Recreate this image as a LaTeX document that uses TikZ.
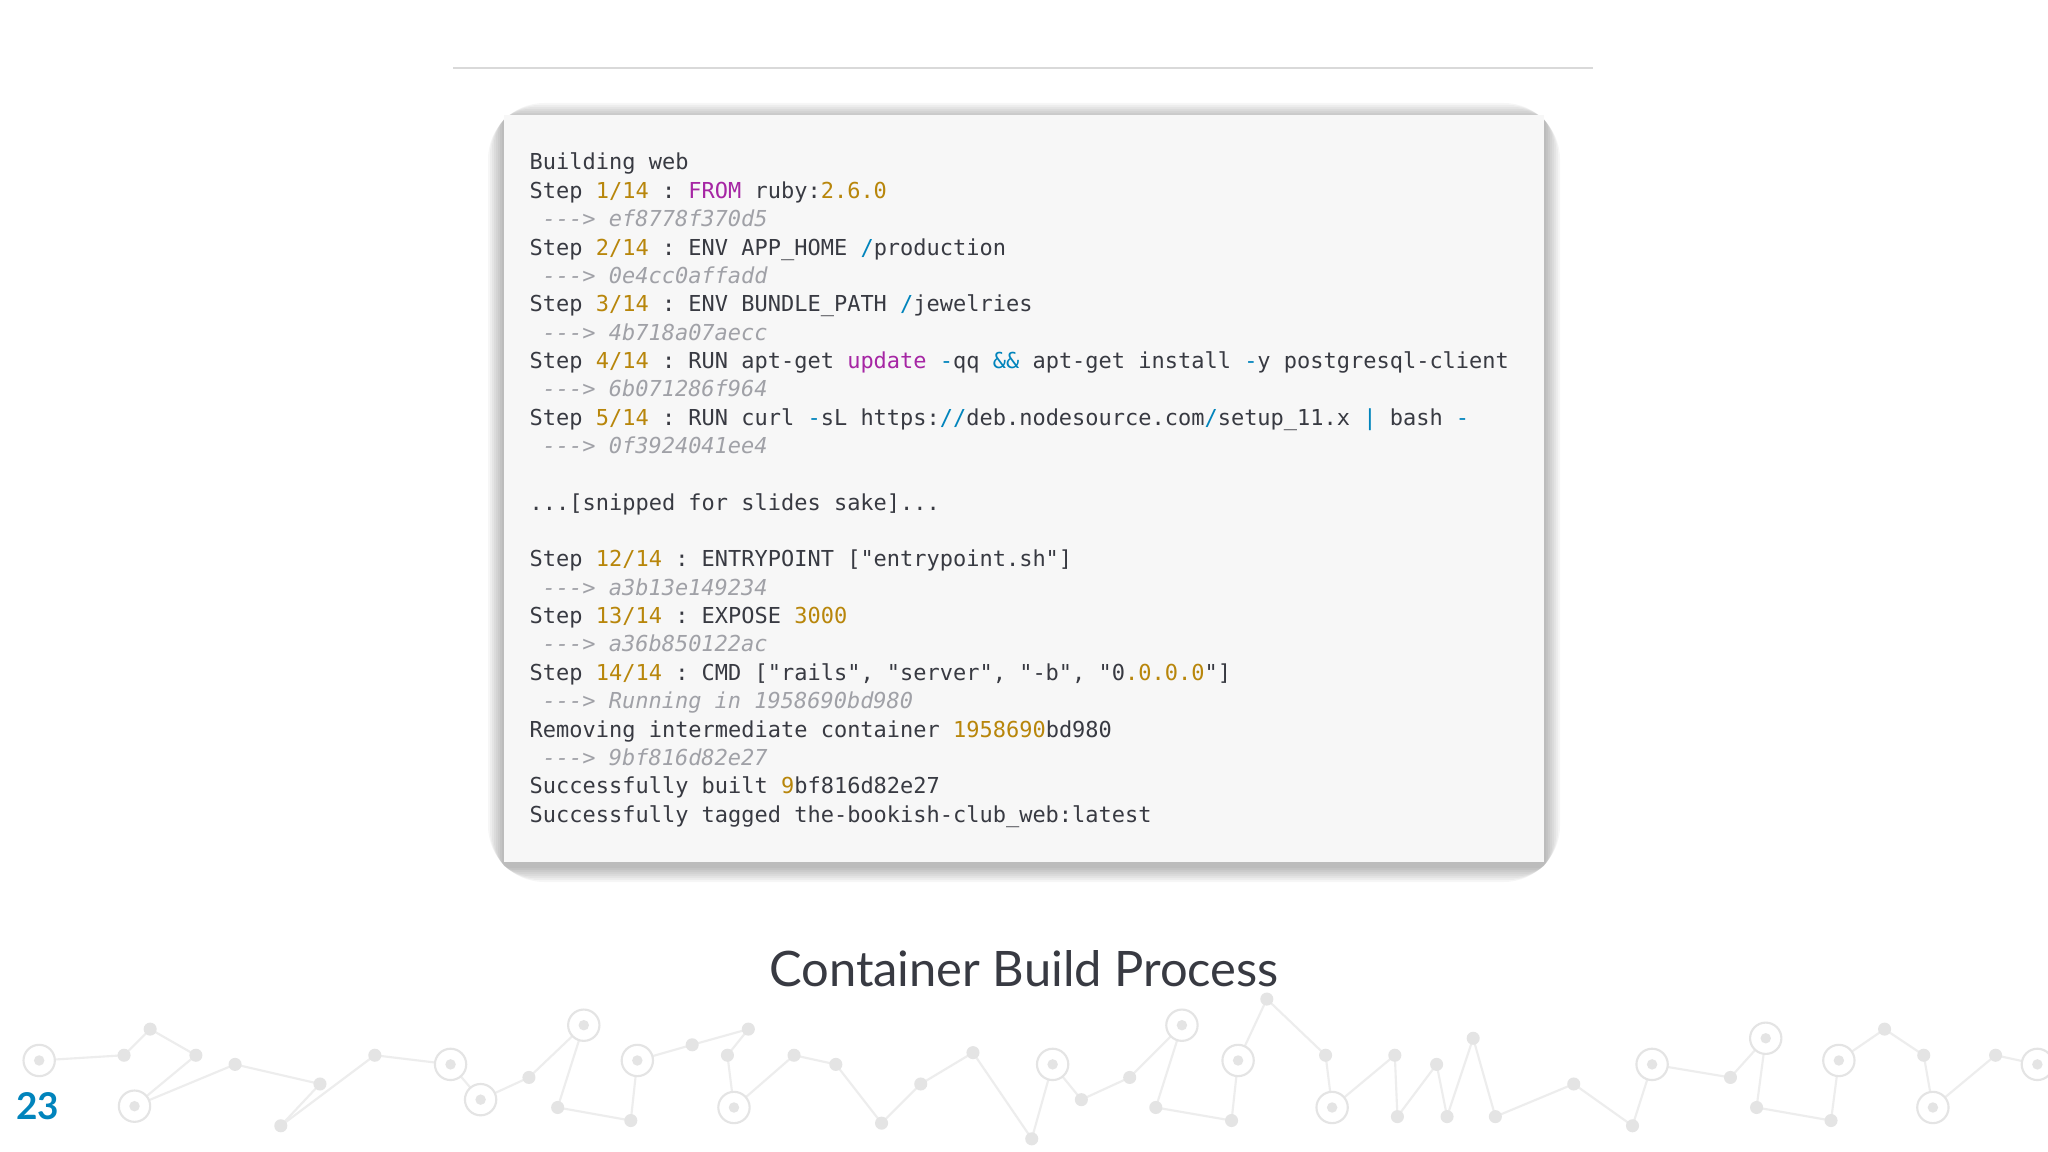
\documentclass[tikz,border=0pt]{standalone}
\usepackage{fontspec}
\setmainfont{Lato}
\setmonofont{DejaVu Sans Mono}
\definecolor{numc}{HTML}{B8860B}
\definecolor{kwc}{HTML}{A626A4}
\definecolor{blc}{HTML}{0184BC}
\definecolor{cmc}{HTML}{A0A1A7}
\definecolor{txc}{HTML}{383A42}
\definecolor{netc}{HTML}{E4E4E4}
\definecolor{linec}{HTML}{EDEDED}
\newcommand\nm[1]{\textcolor{numc}{#1}}
\newcommand\kw[1]{\textcolor{kwc}{#1}}
\newcommand\bl[1]{\textcolor{blc}{#1}}
\tikzset{
  codeline/.style={anchor=base west, inner sep=0pt, font=\ttfamily\fontsize{6.25}{7}\selectfont, text=txc},
  hashline/.style={codeline, text=cmc, font=\ttfamily\itshape\fontsize{6.25}{7}\selectfont},
  ring/.style={draw=netc, line width=0.6pt, fill=white}
}
\begin{document}
\begin{tikzpicture}[x=0.01cm, y=-0.01cm]
  \useasboundingbox (0,0) rectangle (2048,1152);
  \fill[white] (0,0) rectangle (2048,1152);
  % background network
  \begin{scope}[scale=1.306]
    \foreach \x/\y [remember=\x as \px (initially 30), remember=\y as \py (initially 812)] in
      {30/812,95/808,115/788,150/808,103/847,180/815,245/830,215/862,287/808,345/815,368/842,405/825,447/785,427/848,483/858,488/812,530/800,573/788,557/808,562/848,608/808,640/815,675/860,705/830,745/806,790/872,806/815,828/842,865/825,905/785,885/848,943/858,948/812,970/765,1015/808,1020/848,1068/808,1070/855,1100/815,1108/855,1128/795,1145/855,1205/830,1250/862,1265/815,1325/825,1352/795,1345/848,1402/858,1408/812,1443/788,1473/808,1480/848,1528/808,1560/815}
      \draw[linec, line width=0.6pt] (\px,\py) -- (\x,\y);
    \foreach \x/\y in {95/808,115/788,150/808,180/815,245/830,215/862,287/808,405/825,427/848,483/858,530/800,573/788,557/808,608/808,640/815,675/860,705/830,745/806,790/872,828/842,865/825,885/848,943/858,970/765,1015/808,1068/808,1070/855,1100/815,1108/855,1128/795,1145/855,1205/830,1250/862,1325/825,1345/848,1402/858,1443/788,1473/808,1528/808}
      \fill[netc] (\x,\y) circle (5);
    \foreach \x/\y in {30/812,103/847,345/815,368/842,447/785,488/812,562/848,806/815,905/785,948/812,1020/848,1265/815,1352/795,1408/812,1480/848,1560/815}
      {\draw[ring] (\x,\y) circle (12); \fill[netc] (\x,\y) circle (4);}
  \end{scope}
  % rule and code box
  \draw[black!15, line width=0.5pt] (453,68) -- (1593,68);
  \foreach \s in {16,14,...,2}
    \fill[black, opacity=0.035, rounded corners=\s] (504-\s,115-\s+4) rectangle (1544+\s,862+\s+4);
  \fill[black!3] (504,115) rectangle (1544,862);
  \node[codeline] (l0) at (529,170) {Building web};
  \node[codeline] (l1) at (529,198.4) {Step \nm{1/14} : \kw{FROM} ruby:\nm{2.6.0}};
  \node[hashline] (l2) at (542,226.7) {---> ef8778f370d5};
  \node[codeline] (l3) at (529,255.1) {Step \nm{2/14} : ENV APP\_HOME \bl{/}production};
  \node[hashline] (l4) at (542,283.4) {---> 0e4cc0affadd};
  \node[codeline] (l5) at (529,311.8) {Step \nm{3/14} : ENV BUNDLE\_PATH \bl{/}jewelries};
  \node[hashline] (l6) at (542,340.1) {---> 4b718a07aecc};
  \node[codeline] (l7) at (529,368.5) {Step \nm{4/14} : RUN apt-get \kw{update} \bl{-}qq \bl{\&\&} apt-get install \bl{-}y postgresql-client};
  \node[hashline] (l8) at (542,396.8) {---> 6b071286f964};
  \node[codeline] (l9) at (529,425.2) {Step \nm{5/14} : RUN curl \bl{-}sL https:\bl{//}deb.nodesource.com\bl{/}setup\_11.x \bl{|} bash \bl{-}};
  \node[hashline] (l10) at (542,453.5) {---> 0f3924041ee4};
  \node[codeline] (l12) at (529,510.2) {...[snipped for slides sake]...};
  \node[codeline] (l14) at (529,566.9) {Step \nm{12/14} : ENTRYPOINT ["entrypoint.sh"]};
  \node[hashline] (l15) at (542,595.3) {---> a3b13e149234};
  \node[codeline] (l16) at (529,623.6) {Step \nm{13/14} : EXPOSE \nm{3000}};
  \node[hashline] (l17) at (542,652.0) {---> a36b850122ac};
  \node[codeline] (l18) at (529,680.3) {Step \nm{14/14} : CMD ["rails", "server", "-b", "0\nm{.0.0.0}"]};
  \node[hashline] (l19) at (542,708.7) {---> Running in 1958690bd980};
  \node[codeline] (l20) at (529,737.0) {Removing intermediate container \nm{1958690}bd980};
  \node[hashline] (l21) at (542,765.4) {---> 9bf816d82e27};
  \node[codeline] (l22) at (529,793.7) {Successfully built \nm{9}bf816d82e27};
  \node[codeline] (l23) at (529,822.1) {Successfully tagged the-bookish-club\_web:latest};
  % caption and page number
  \node[text=txc, font=\fontsize{13.9}{17}\selectfont] (title) at (1024,969) {Container Build Process};
  \node[text=blc, font=\bfseries\fontsize{10.5}{13}\selectfont] (page) at (38,1106) {23};
\end{tikzpicture}
\end{document}
